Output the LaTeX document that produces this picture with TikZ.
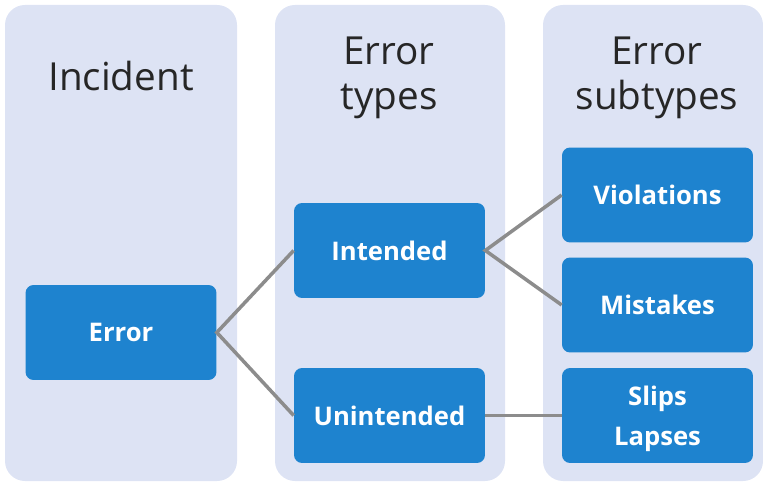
\documentclass[tikz,border=0pt]{standalone}
\usepackage{fontspec}
\setmainfont{Open Sans}
\definecolor{panelblue}{RGB}{221,227,244}
\definecolor{boxblue}{RGB}{30,131,207}
\definecolor{linkgray}{RGB}{140,140,140}

\begin{document}
\begin{tikzpicture}[x=0.02cm,y=-0.02cm,
  panel/.style={fill=panelblue,rounded corners=0.4cm},
  title/.style={align=center,font=\fontsize{22}{25.5}\selectfont,text=black!85},
  box/.style={rectangle,fill=boxblue,rounded corners=0.16cm,minimum width=3.82cm,minimum height=1.9cm,
    align=center,text=white,font=\fontsize{14.6}{23}\selectfont\bfseries},
  link/.style={draw=linkgray,line width=2pt}]
\useasboundingbox (0,0) rectangle (763,482);
% three columns
\fill[panel] (5,5) rectangle (237,481);
\fill[panel] (275,5) rectangle (505,481);
\fill[panel] (543,5) rectangle (763,481);
\node[title] (incident) at (121,76) {Incident};
\node[title] (types) at (389,78) {Error\\types};
\node[title] (subtypes) at (657,78) {Error\\subtypes};
% boxes
\node[box] (error) at (121,332.5) {Error};
\node[box] (intended) at (389.5,250.5) {Intended};
\node[box] (unintended) at (389.5,415.5) {Unintended};
\node[box] (violations) at (657.5,195) {Violations};
\node[box] (mistakes) at (657.5,305) {Mistakes};
\node[box,text depth=0pt] (slips) at (657.5,415.5) {Slips\\Lapses};
% links
\draw[link] (intended.west) -- (error.east) -- (unintended.west);
\draw[link] (violations.west) -- (intended.east) -- (mistakes.west);
\draw[link] (unintended.east) -- (slips.west);
\end{tikzpicture}
\end{document}
